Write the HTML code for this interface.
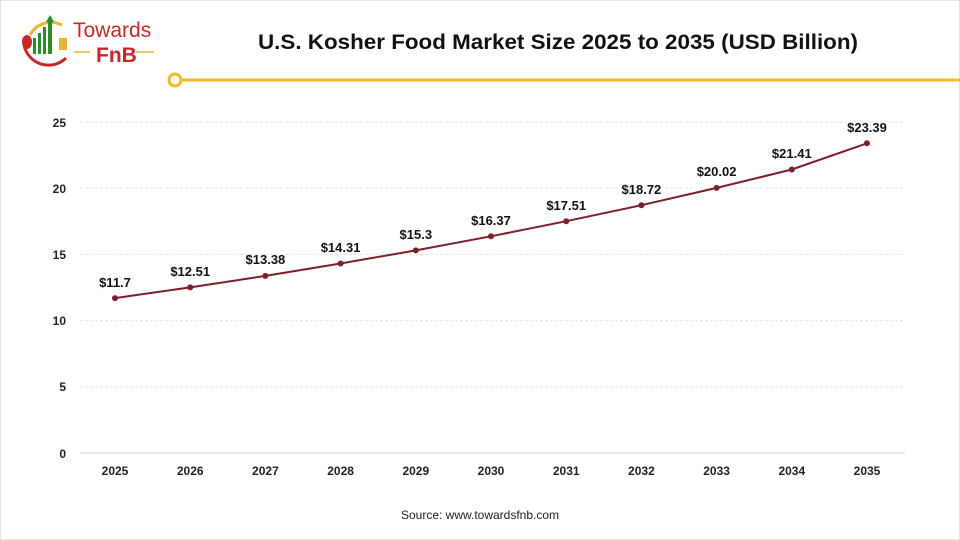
<!DOCTYPE html><html><head><style>body{margin:0;background:#fff}svg{display:block;font-family:"Liberation Sans",Arial,sans-serif}</style></head><body>
<svg width="960" height="540" viewBox="0 0 960 540">
<rect x="0.5" y="0.5" width="959" height="539" fill="#fff" stroke="#e4e4e4"/>
<path d="M30 35 A24 24 0 0 1 62 25" stroke="#e8b531" stroke-width="3" fill="none"/>
<path d="M24 45 A25 25 0 0 0 66 58" stroke="#c62828" stroke-width="3" fill="none"/>
<ellipse cx="27" cy="42" rx="5" ry="7" fill="#c62828"/>
<rect x="33" y="38" width="3" height="16" fill="#2e8b2e"/><rect x="38" y="33" width="3" height="21" fill="#2e8b2e"/><rect x="43" y="27" width="3" height="27" fill="#2e8b2e"/><rect x="48" y="20" width="4" height="34" fill="#2e8b2e"/><polygon points="50,15 46,22 54,22" fill="#2e8b2e"/>
<rect x="59" y="38" width="8" height="12" fill="#e8b531"/>
<text x="73" y="37" font-size="21" fill="#c62828">Towards</text>
<text x="96" y="62" font-size="21" font-weight="bold" fill="#c62828">FnB</text>
<line x1="74" y1="52" x2="90" y2="52" stroke="#e8b531" stroke-width="1.5"/><line x1="136" y1="52" x2="154" y2="52" stroke="#e8b531" stroke-width="1.5"/>
<text x="258" y="49" font-size="21" font-weight="bold" fill="#111" textLength="600" lengthAdjust="spacingAndGlyphs">U.S. Kosher Food Market Size 2025 to 2035 (USD Billion)</text>
<line x1="182" y1="80" x2="960" y2="80" stroke="#f0b928" stroke-width="3"/>
<circle cx="175" cy="80" r="6" fill="#fff" stroke="#f0b928" stroke-width="3"/>
<g stroke="#e6e6e6" stroke-dasharray="3,2"><line x1="80" y1="122" x2="905" y2="122"/><line x1="80" y1="188.2" x2="905" y2="188.2"/><line x1="80" y1="254.4" x2="905" y2="254.4"/><line x1="80" y1="320.6" x2="905" y2="320.6"/><line x1="80" y1="386.8" x2="905" y2="386.8"/></g>
<line x1="80" y1="453" x2="905" y2="453" stroke="#d0d0d0"/>
<g font-size="12" font-weight="bold" fill="#222" text-anchor="end"><text x="66" y="127">25</text><text x="66" y="193">20</text><text x="66" y="259">15</text><text x="66" y="325">10</text><text x="66" y="391">5</text><text x="66" y="458">0</text></g>
<g font-size="12" font-weight="bold" fill="#222" text-anchor="middle"><text x="115" y="475">2025</text><text x="190.2" y="475">2026</text><text x="265.4" y="475">2027</text><text x="340.6" y="475">2028</text><text x="415.8" y="475">2029</text><text x="491" y="475">2030</text><text x="566.2" y="475">2031</text><text x="641.4" y="475">2032</text><text x="716.6" y="475">2033</text><text x="791.8" y="475">2034</text><text x="867" y="475">2035</text></g>
<polyline fill="none" stroke="#7b1f2b" stroke-width="2" points="115,298.1 190.2,287.4 265.4,275.9 340.6,263.5 415.8,250.4 491,236.3 566.2,221.2 641.4,205.2 716.6,187.9 791.8,169.5 867,143.3"/>
<g fill="#7b1f2b"><circle cx="115" cy="298.1" r="3"/><circle cx="190.2" cy="287.4" r="3"/><circle cx="265.4" cy="275.9" r="3"/><circle cx="340.6" cy="263.5" r="3"/><circle cx="415.8" cy="250.4" r="3"/><circle cx="491" cy="236.3" r="3"/><circle cx="566.2" cy="221.2" r="3"/><circle cx="641.4" cy="205.2" r="3"/><circle cx="716.6" cy="187.9" r="3"/><circle cx="791.8" cy="169.5" r="3"/><circle cx="867" cy="143.3" r="3"/></g>
<g font-size="13" font-weight="bold" fill="#111" text-anchor="middle"><text x="115" y="287">$11.7</text><text x="190.2" y="276">$12.51</text><text x="265.4" y="264">$13.38</text><text x="340.6" y="252">$14.31</text><text x="415.8" y="239">$15.3</text><text x="491" y="225">$16.37</text><text x="566.2" y="210">$17.51</text><text x="641.4" y="194">$18.72</text><text x="716.6" y="176">$20.02</text><text x="791.8" y="158">$21.41</text><text x="867" y="132">$23.39</text></g>
<text x="480" y="519" font-size="12" fill="#222" text-anchor="middle">Source: www.towardsfnb.com</text>
</svg></body></html>
